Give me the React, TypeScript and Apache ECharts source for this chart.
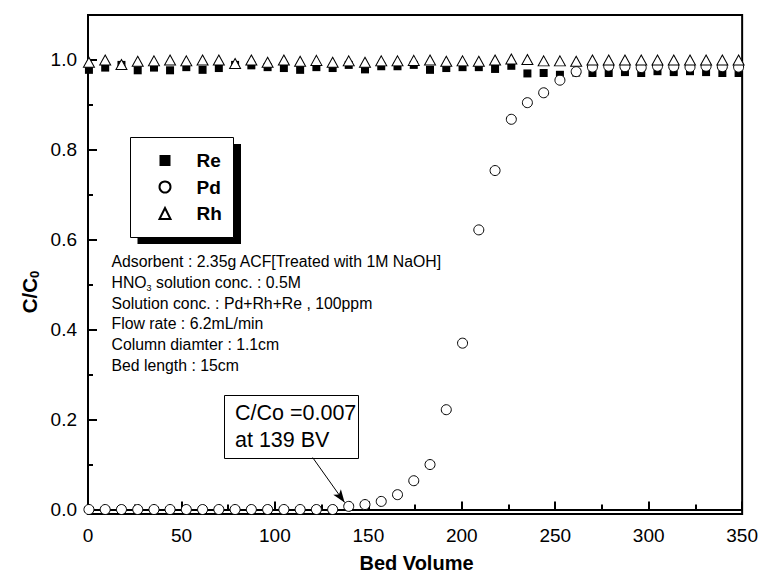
import React, { useEffect, useRef } from "react";
import * as echarts from "echarts";

const bedVolume = [
  0.5, 9.2, 17.9, 26.6, 35.3, 43.9, 52.6, 61.3, 70.0, 78.7, 87.4, 96.1, 104.8, 113.5,
  122.2, 130.9, 139.5, 148.2, 156.9, 165.6, 174.3, 183.0, 191.7, 200.4, 209.1, 217.8,
  226.5, 235.1, 243.8, 252.5, 261.2, 269.9, 278.6, 287.3, 296.0, 304.7, 313.4, 322.1,
  330.7, 339.4, 348.1,
];

const reValues = [
  0.978, 0.983, 0.989, 0.977, 0.983, 0.977, 0.984, 0.978, 0.982, 0.989, 0.988, 0.984,
  0.982, 0.978, 0.984, 0.982, 0.989, 0.979, 0.986, 0.986, 0.989, 0.978, 0.982, 0.984,
  0.984, 0.98, 0.987, 0.97, 0.971, 0.967, 0.972, 0.971, 0.971, 0.973, 0.971, 0.975,
  0.973, 0.975, 0.973, 0.971, 0.971,
];

const pdValues = [
  0, 0, 0, 0, 0, 0, 0, 0, 0, 0, 0, 0, 0, 0, 0, 0, 0.007, 0.011, 0.018, 0.033, 0.064,
  0.1, 0.222, 0.37, 0.622, 0.754, 0.868, 0.905, 0.927, 0.955, 0.974, 0.984, 0.986,
  0.985, 0.983, 0.986, 0.985, 0.984, 0.986, 0.985, 0.984,
];

const rhValues = [
  0.995, 1.0, 0.99, 0.997, 0.998, 1.0, 0.998, 1.0, 1.0, 0.992, 1.0, 0.995, 1.0, 0.997,
  0.999, 0.995, 0.998, 0.995, 0.998, 0.998, 0.999, 1.0, 0.997, 0.998, 0.997, 1.0, 1.002,
  1.001, 0.998, 0.998, 0.997, 1.0, 1.0, 1.0, 1.0, 1.0, 1.0, 1.0, 1.0, 1.0, 1.0,
];

const yMajorTicks = [0, 0.2, 0.4, 0.6, 0.8, 1.0];
const yMinorTicks = [0.1, 0.3, 0.5, 0.7, 0.9];

const conditionLines = [
  "Adsorbent : 2.35g ACF[Treated with 1M NaOH]",
  "{m|HNO}{s|3}{m| solution conc. : 0.5M}",
  "Solution conc. : Pd+Rh+Re , 100ppm",
  "Flow rate : 6.2mL/min",
  "Column diamter : 1.1cm",
  "Bed length : 15cm",
];

const breakthroughNote = ["C/Co =0.007", "at 139 BV"];

const FONT = "'Liberation Sans', Arial, Helvetica, sans-serif";

function pairs(ys: number[]) {
  return ys.map((y, i) => [bedVolume[i], y]);
}

export default function App() {
  const ref = useRef<HTMLDivElement>(null);

  useEffect(() => {
    if (!ref.current) return;
    const chart = echarts.init(ref.current, null, { renderer: "svg" });
    const lineYs = [261.7, 282, 303.3, 323.8, 344.8, 365.3];

    const option: any = {
      animation: false,
      backgroundColor: "#fff",
      grid: {
        left: 88,
        right: 16,
        top: 15,
        bottom: 63,
        show: true,
        borderColor: "#000",
        borderWidth: 2,
        backgroundColor: "transparent",
      },
      xAxis: {
        type: "value",
        min: 0,
        max: 350,
        interval: 50,
        axisLine: { show: true, lineStyle: { color: "#000", width: 2 } },
        axisTick: { show: true, inside: true, length: 8, lineStyle: { color: "#000", width: 2 } },
        minorTick: { show: true, splitNumber: 2, length: 5, lineStyle: { color: "#000", width: 2 } },
        splitLine: { show: false },
        minorSplitLine: { show: false },
        axisLabel: { color: "#000", fontSize: 19, fontFamily: FONT, margin: 12 },
      },
      yAxis: [
        {
          type: "value",
          min: -0.01,
          max: 1.1,
          axisLine: { show: true, lineStyle: { color: "#000", width: 2 } },
          axisTick: {
            show: true,
            inside: true,
            length: 9,
            customValues: yMajorTicks,
            lineStyle: { color: "#000", width: 2 },
          },
          splitLine: { show: false },
          axisLabel: {
            color: "#000",
            fontSize: 19,
            fontFamily: FONT,
            margin: 11,
            customValues: yMajorTicks,
            formatter: (v: number) => v.toFixed(1),
          },
        },
        {
          type: "value",
          min: -0.01,
          max: 1.1,
          position: "left",
          axisLine: { show: false },
          axisTick: {
            show: true,
            inside: true,
            length: 5,
            customValues: yMinorTicks,
            lineStyle: { color: "#000", width: 2 },
          },
          splitLine: { show: false },
          axisLabel: { show: false },
        },
      ],
      legend: {
        orient: "vertical",
        left: 158.5,
        top: 150.5,
        padding: 0,
        itemWidth: 11,
        itemHeight: 11,
        itemGap: 6.5,
        selectedMode: false,
        data: ["Re", "Pd", "Rh"],
        textStyle: {
          color: "#000",
          fontSize: 19,
          fontWeight: "bold",
          fontFamily: FONT,
          lineHeight: 20,
          padding: [0, 0, 0, 21],
        },
      },
      graphic: [
        {
          type: "rect",
          shape: { x: 137.5, y: 144, width: 103.5, height: 100 },
          style: { fill: "#000" },
          z: 1,
        },
        {
          type: "rect",
          shape: { x: 130.5, y: 137.5, width: 103, height: 100 },
          style: { fill: "#fff", stroke: "#000", lineWidth: 1 },
          z: 2,
        },
        ...conditionLines.map((t, i) => ({
          type: "text",
          x: 111.5,
          y: lineYs[i],
          z: 5,
          style: {
            text: t.includes("{") ? t : `{m|${t}}`,
            textVerticalAlign: "middle",
            fill: "#000",
            rich: {
              m: { fontSize: 15.8, fontFamily: FONT, color: "#000", lineHeight: 20 },
              s: {
                fontSize: 9,
                fontFamily: FONT,
                color: "#000",
                lineHeight: 20,
                verticalAlign: "bottom",
                padding: [9, 0, 0, 0],
              },
            },
          },
        })),
        {
          type: "rect",
          shape: { x: 224.5, y: 395.5, width: 134, height: 63 },
          style: { fill: "#fff", stroke: "#000", lineWidth: 1 },
          z: 5,
        },
        ...breakthroughNote.map((t, i) => ({
          type: "text",
          x: 235,
          y: i === 0 ? 412.5 : 440,
          z: 6,
          style: {
            text: t,
            fontSize: 21.5,
            fontFamily: FONT,
            fill: "#000",
            textVerticalAlign: "middle",
          },
        })),
        {
          type: "text",
          x: 29,
          y: 292,
          rotation: Math.PI / 2,
          z: 6,
          style: {
            text: "{a|C/C}{b|0}",
            textAlign: "center",
            textVerticalAlign: "middle",
            rich: {
              a: { fontSize: 20.5, fontWeight: "bold", fontFamily: FONT, color: "#000", lineHeight: 24 },
              b: {
                fontSize: 13,
                fontWeight: "bold",
                fontFamily: FONT,
                color: "#000",
                lineHeight: 24,
                verticalAlign: "bottom",
                padding: [10, 0, 0, 0],
              },
            },
          },
        },
        {
          type: "text",
          x: 416.5,
          y: 563,
          z: 6,
          style: {
            text: "Bed Volume",
            fontSize: 20,
            fontWeight: "bold",
            fontFamily: FONT,
            fill: "#000",
            textAlign: "center",
            textVerticalAlign: "middle",
          },
        },
      ],
      series: [
        {
          name: "Re",
          type: "scatter",
          data: pairs(reValues),
          symbol: "rect",
          symbolSize: 8,
          itemStyle: { color: "#000", borderColor: "#000", borderWidth: 0, opacity: 1 },
          silent: true,
        },
        {
          name: "Pd",
          type: "scatter",
          data: pairs(pdValues),
          symbol: "circle",
          symbolSize: 10,
          itemStyle: { color: "#fff", borderColor: "#000", borderWidth: 1, opacity: 1 },
          silent: true,
          markLine: {
            silent: true,
            symbol: ["none", "arrow"],
            symbolSize: [7, 13],
            label: { show: false },
            lineStyle: { color: "#000", width: 1, type: "solid", opacity: 1 },
            data: [[{ coord: [120.2, 0.1156] }, { coord: [137.3, 0.0155] }]],
          },
        },
        {
          name: "Rh",
          type: "scatter",
          data: pairs(rhValues),
          symbol: "triangle",
          symbolSize: [11, 10],
          itemStyle: { color: "#fff", borderColor: "#000", borderWidth: 1, opacity: 1 },
          silent: true,
        },
      ],
    };

    chart.setOption(option);
    return () => chart.dispose();
  }, []);

  return (
    <div
      ref={ref}
      style={{ position: "fixed", left: 0, top: 0, width: 761, height: 577, background: "#fff" }}
    />
  );
}
